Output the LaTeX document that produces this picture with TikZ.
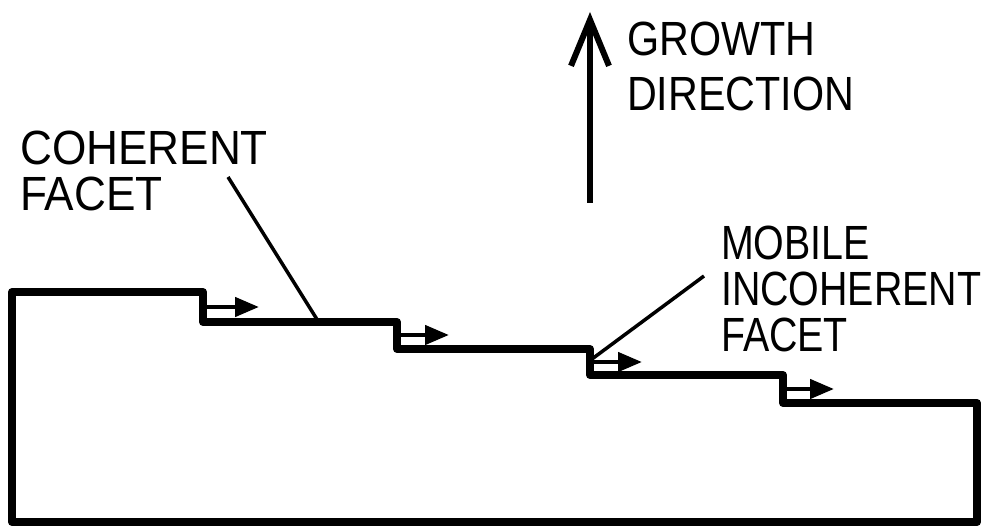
\documentclass[tikz,border=0pt]{standalone}
\usepackage{fontspec}
\setmainfont{Liberation Sans}
\usetikzlibrary{arrows.meta, positioning, calc}

\begin{document}
\begin{tikzpicture}[
      x=1pt, y=-1pt,
      crystal/.style={line width=8pt, line join=round, draw=black},
      slip/.style={-{Triangle[length=24pt, width=19pt]}, line width=4.5pt},
      leader/.style={line width=3.5pt},
      growth/.style={-{Straight Barb[length=46pt, width=38pt]}, line width=6pt},
      lbl/.style={inner sep=0pt, align=left,
                  font=\fontsize{48}{46}\selectfont}
    ]
    \useasboundingbox (0,0) rectangle (992,529);
    % stepped crystal outline
    \draw[crystal] (12,522) -- (12,292) -- (203,292) -- (203,322)
      -- (397,322) -- (397,349) -- (590,349) -- (590,375)
      -- (783,375) -- (783,403) -- (977,403) -- (977,522) -- cycle;
    % ledge motion at each riser
    \coordinate (s1) at (206,307); \coordinate (t1) at (259,307);
    \coordinate (s2) at (400,335); \coordinate (t2) at (449,335);
    \coordinate (s3) at (593,362); \coordinate (t3) at (642,362);
    \coordinate (s4) at (786,389); \coordinate (t4) at (834,389);
    \draw[slip] (s1) -- (t1);
    \draw[slip] (s2) -- (t2);
    \draw[slip] (s3) -- (t3);
    \draw[slip] (s4) -- (t4);
    % growth direction
    \coordinate (gbase) at (590,203);
    \coordinate (gtip)  at (590,12);
    \draw[growth] (gbase) -- (gtip);
    \node[lbl, xscale=0.86, anchor=north west] (grow) at (627,22) {GROWTH\\[9pt]DIRECTION};
    % labels
    \node[lbl, xscale=0.92, anchor=north west] (coh) at (20,131) {COHERENT\\FACET};
    \node[lbl, xscale=0.82, anchor=north west] (mob) at (721,226) {MOBILE\\INCOHERENT\\FACET};
    \coordinate (cohtail) at (228,177);
    \coordinate (cohpt)   at (318,321);
    \coordinate (mobtail) at (704,276);
    \coordinate (mobpt)   at (592,359);
    \draw[leader] (cohtail) -- (cohpt);
    \draw[leader] (mobtail) -- (mobpt);
  \end{tikzpicture}
\end{document}
